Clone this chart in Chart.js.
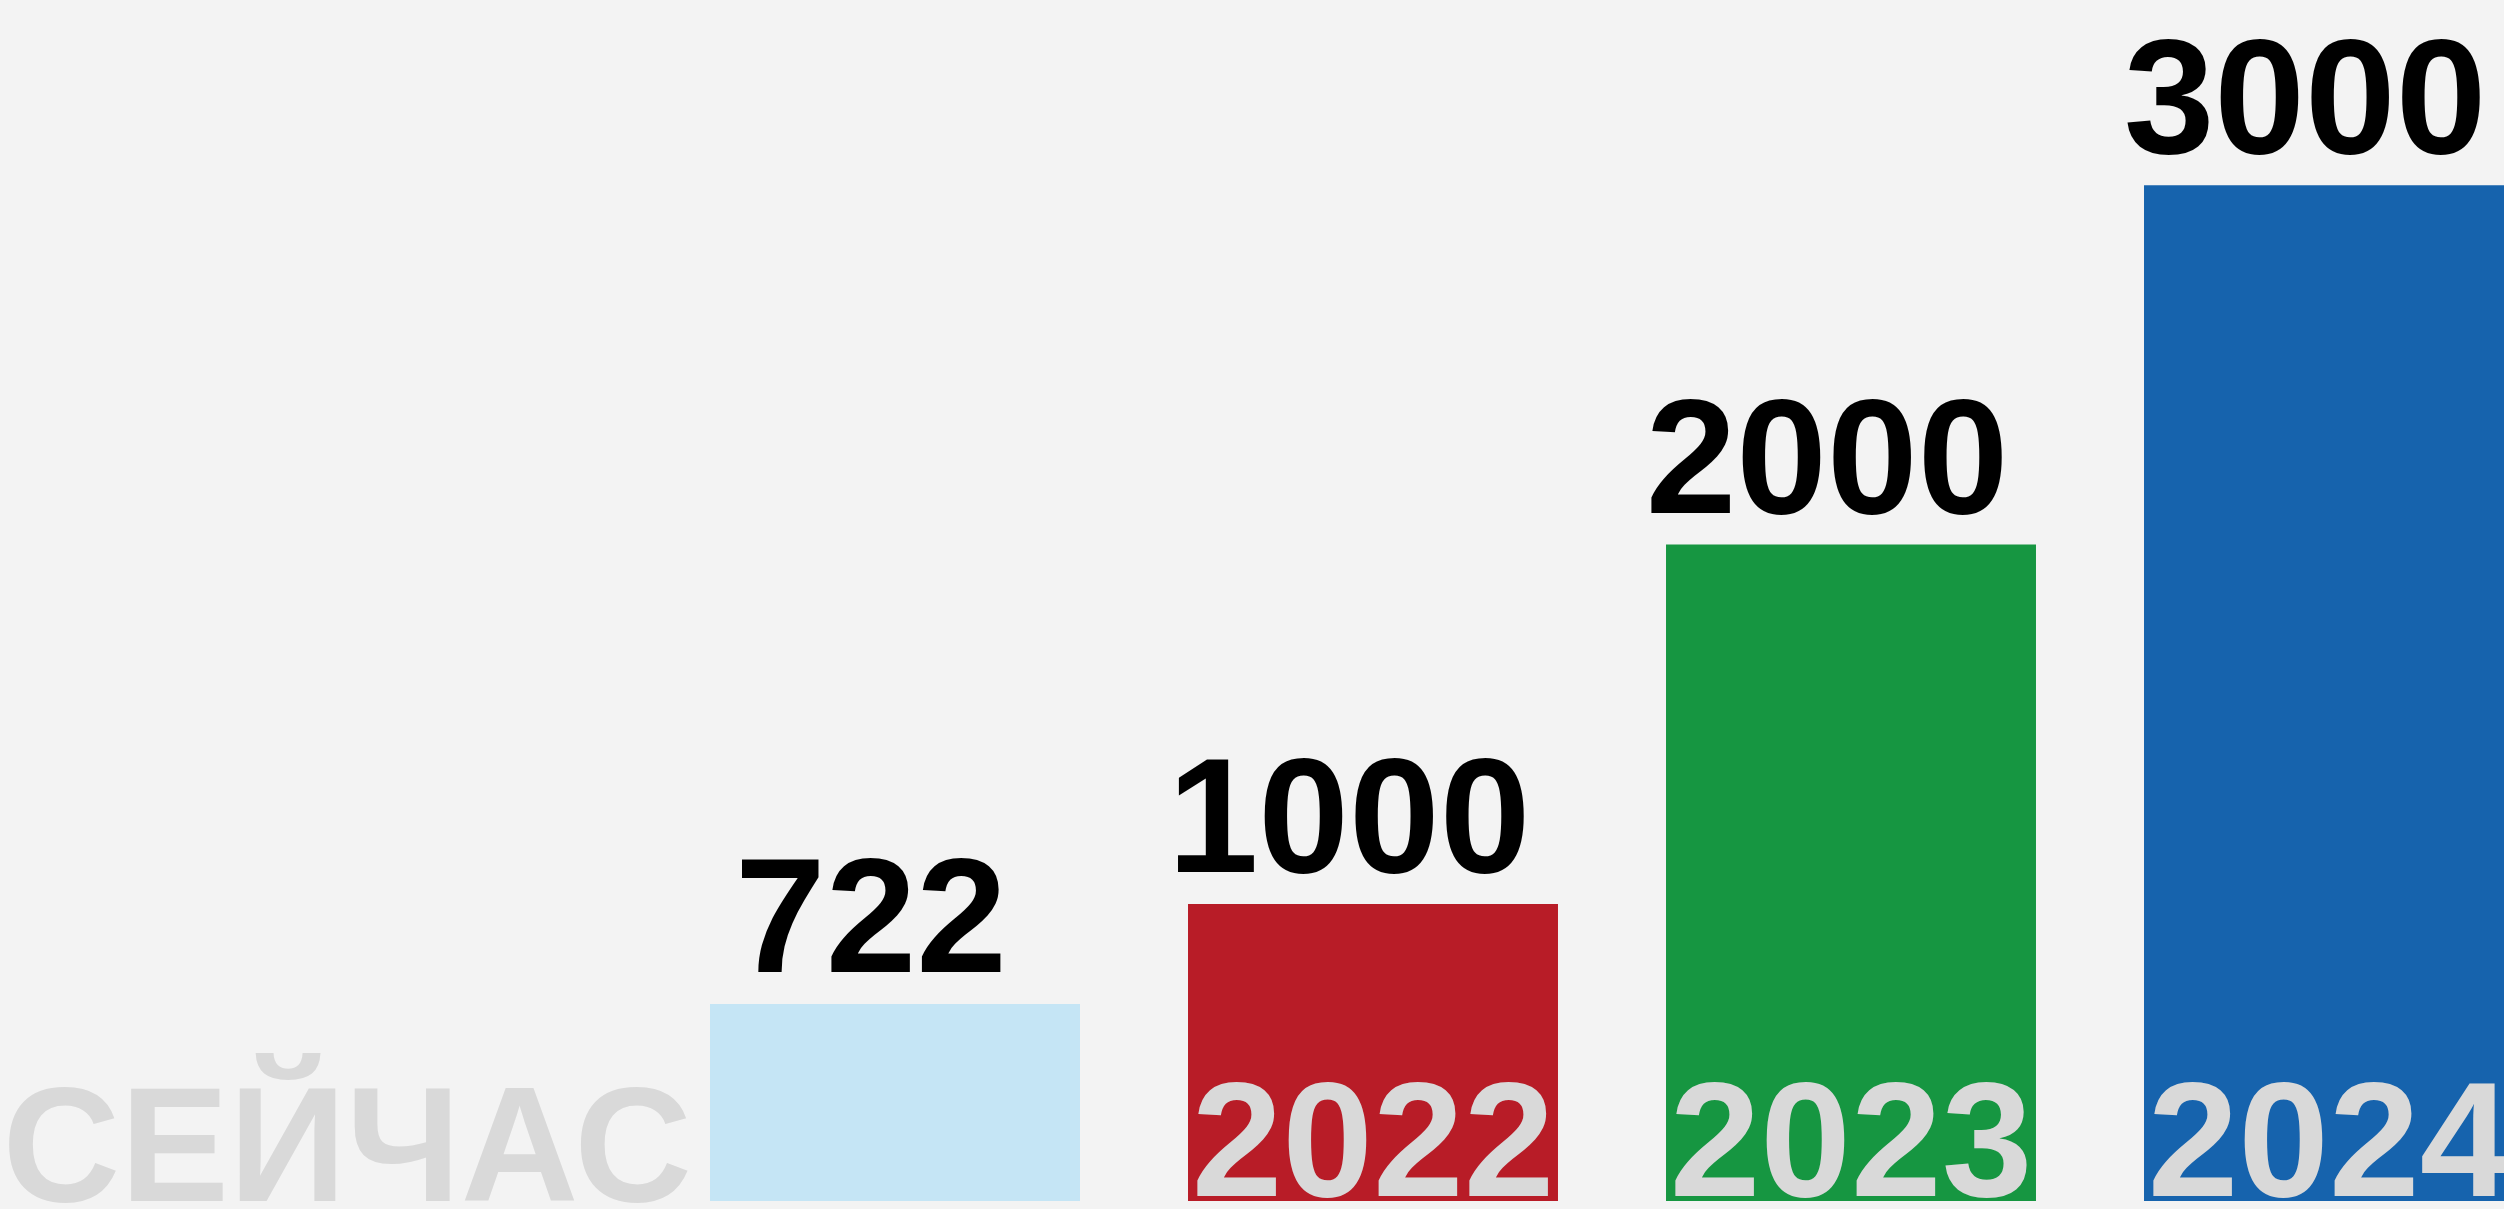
<!DOCTYPE html>
<html>
<head>
<meta charset="utf-8">
<script src="https://cdn.jsdelivr.net/npm/chart.js@4.4.1/dist/chart.umd.min.js"></script>
<style>
  html, body { margin: 0; padding: 0; background: #f3f3f3; overflow: hidden; width: 2504px; height: 1209px; }
  #wrap { position: relative; width: 2504px; height: 1209px; overflow: hidden; }
  canvas { display: block; }
</style>
</head>
<body>
<div id="wrap"><canvas id="c" width="2568" height="1209" style="width:2568px;height:1209px"></canvas></div>
<script>
// ---- data ----
const categories = ['СЕЙЧАС', '2022', '2023', '2024'];
const values = [722, 1000, 2000, 3000];
const valueLabels = ['722', '1000', '2000', '3000'];
const barColors = ['#c5e5f5', '#b81c27', '#169641', '#1663ad'];

const FONT = '"Liberation Sans", Arial, Helvetica, sans-serif';

const labelPlugin = {
  id: 'labels',
  beforeDraw(chart) {
    const ctx = chart.ctx;
    ctx.save();
    ctx.fillStyle = '#f3f3f3';
    ctx.fillRect(0, 0, chart.width, chart.height);
    ctx.restore();
  },
  afterDatasetsDraw(chart) {
    const ctx = chart.ctx;
    const meta = chart.getDatasetMeta(0);
    const bottom = chart.chartArea.bottom;
    ctx.save();
    ctx.font = 'bold 163px ' + FONT;
    ctx.textBaseline = 'alphabetic';
    meta.data.forEach((bar, i) => {
      const p = bar.getProps(['x', 'y', 'width'], true);
      // value label above bar
      ctx.fillStyle = '#000000';
      ctx.textAlign = 'center';
      ctx.fillText(valueLabels[i], p.x - 24, p.y - 32);
      // category label at the bottom
      ctx.fillStyle = '#d9d9d9';
      if (i === 0) {
        ctx.textAlign = 'right';
        ctx.fillText(categories[i], p.x - p.width / 2 - 18, bottom);
      } else {
        ctx.textAlign = 'center';
        ctx.fillText(categories[i], p.x, bottom - 5);
      }
    });
    ctx.restore();
  }
};

new Chart(document.getElementById('c'), {
  type: 'bar',
  data: {
    labels: categories,
    datasets: [{
      data: values,
      backgroundColor: barColors,
      borderWidth: 0,
      base: 174,
      barPercentage: 0.774,
      categoryPercentage: 1.0
    }]
  },
  options: {
    responsive: false,
    devicePixelRatio: 1,
    animation: false,
    layout: { padding: { left: 656, right: 0, top: 0, bottom: 8 } },
    plugins: {
      legend: { display: false },
      tooltip: { enabled: false },
      title: { display: false }
    },
    scales: {
      x: { display: false, offset: true, grid: { display: false } },
      y: { display: false, min: 174, max: 3515, grid: { display: false } }
    }
  },
  plugins: [labelPlugin]
});
</script>
</body>
</html>
